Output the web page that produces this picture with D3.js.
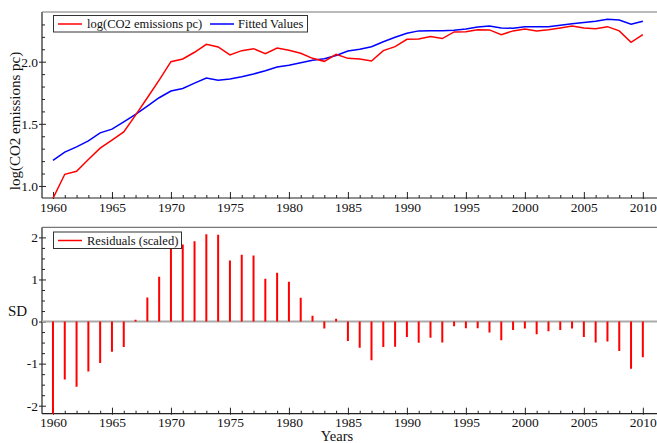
<!DOCTYPE html>
<html><head><meta charset="utf-8">
<script src="https://cdn.jsdelivr.net/npm/d3@7/dist/d3.min.js"></script>
<style>
body{margin:0;background:#fff}
svg{display:block}
svg text{font-family:"Liberation Serif","Times New Roman",serif !important;fill:#111}
</style>
</head><body>
<svg id="chart" width="657" height="443"></svg>
<script>
const years = [1960,1961,1962,1963,1964,1965,1966,1967,1968,1969,1970,1971,1972,1973,1974,1975,1976,1977,1978,1979,1980,1981,1982,1983,1984,1985,1986,1987,1988,1989,1990,1991,1992,1993,1994,1995,1996,1997,1998,1999,2000,2001,2002,2003,2004,2005,2006,2007,2008,2009,2010];
const logCO2 = [0.90,1.094,1.118,1.213,1.304,1.369,1.435,1.57,1.71,1.852,2.0,2.022,2.076,2.14,2.119,2.054,2.089,2.105,2.065,2.11,2.092,2.068,2.027,2.003,2.06,2.027,2.022,2.006,2.089,2.121,2.18,2.183,2.202,2.186,2.24,2.242,2.258,2.256,2.218,2.248,2.264,2.248,2.258,2.272,2.288,2.272,2.266,2.282,2.248,2.156,2.218];
const fitted = [1.205,1.272,1.315,1.363,1.427,1.457,1.516,1.576,1.643,1.71,1.764,1.785,1.828,1.869,1.85,1.86,1.879,1.901,1.927,1.957,1.971,1.992,2.011,2.024,2.05,2.086,2.1,2.121,2.161,2.197,2.229,2.248,2.25,2.25,2.253,2.264,2.28,2.288,2.272,2.269,2.282,2.282,2.282,2.293,2.306,2.315,2.326,2.342,2.336,2.302,2.326];
const residuals = [-2.35,-1.375,-1.55,-1.19,-0.986,-0.716,-0.604,0.04,0.573,1.067,1.807,1.83,1.91,2.076,2.06,1.449,1.59,1.568,1.019,1.162,0.947,0.566,0.136,-0.167,0.064,-0.46,-0.62,-0.92,-0.604,-0.597,-0.365,-0.501,-0.382,-0.5,-0.11,-0.158,-0.158,-0.262,-0.444,-0.198,-0.167,-0.30,-0.23,-0.198,-0.167,-0.365,-0.50,-0.477,-0.70,-1.12,-0.85];
const xMajorTicks = [1960,1965,1970,1975,1980,1985,1990,1995,2000,2005,2010];
const topYMajor = [1.0,1.5,2.0];
const topYMinor = [1.1,1.2,1.3,1.4,1.6,1.7,1.8,1.9,2.1,2.2,2.3];
const botYMajor = [-2,-1,0,1,2];
const botYMinor = [-1.75,-1.5,-1.25,-0.75,-0.5,-0.25,0.25,0.5,0.75,1.25,1.5,1.75];
const topLegend = ["log(CO2 emissions pc)","Fitted Values"];
const botLegend = ["Residuals (scaled)"];

const svg = d3.select("#chart");
const RED = "#ff0000", BLUE = "#0000ff", AX = "#222";
const FONT = '"Liberation Serif","Times New Roman",serif';

const x = d3.scaleLinear().domain([1959.07, 2011.2]).range([42, 657]);
const yTop = d3.scaleLinear().domain([0.903, 2.40]).range([198, 12]);
const yBot = d3.scaleLinear().domain([-2.19, 2.24]).range([413.7, 227.3]);

function clip(id, y0, y1){
  svg.append("clipPath").attr("id", id).append("rect")
    .attr("x", 42).attr("y", y0).attr("width", 615).attr("height", y1 - y0);
}
clip("cTop", 12, 198);
clip("cBot", 227.3, 413.7);

function styleText(sel){
  sel.attr("font-family", FONT).style("font-family", FONT).style("font-size", "13.5px").attr("fill", "#111");
}

function xAxis(yPos, labelOffset){
  const g = svg.append("g");
  g.append("g").attr("transform", `translate(0,${yPos})`)
    .call(d3.axisBottom(x).tickValues(years.filter(v => v % 5 !== 0)).tickSize(-3).tickFormat(""))
    .call(s => s.select(".domain").remove())
    .selectAll("line").attr("stroke", AX);
  const maj = g.append("g").attr("transform", `translate(0,${yPos})`)
    .call(d3.axisBottom(x).tickValues(xMajorTicks).tickSize(0).tickPadding(0).tickFormat(d3.format("d")));
  maj.attr("font-family", null).attr("font-size", null);
  maj.select(".domain").remove();
  maj.selectAll(".tick line").attr("y1", -6).attr("y2", 1).attr("stroke", AX);
  styleText(maj.selectAll(".tick text").attr("dy", null).attr("y", labelOffset));
  g.append("line").attr("x1", 42).attr("x2", 657).attr("y1", yPos).attr("y2", yPos)
    .attr("stroke", AX).attr("stroke-width", 1.2);
}

function yAxis(scale, majors, minors, fmt, y0, y1){
  const g = svg.append("g").attr("transform", "translate(42,0)");
  g.append("g").call(d3.axisLeft(scale).tickValues(minors).tickSize(-3).tickFormat(""))
    .call(s => s.select(".domain").remove())
    .selectAll("line").attr("stroke", AX);
  const maj = g.append("g").call(d3.axisLeft(scale).tickValues(majors).tickSize(0).tickPadding(4).tickFormat(fmt));
  maj.attr("font-family", null).attr("font-size", null);
  maj.select(".domain").remove();
  maj.selectAll(".tick line").attr("x1", -3).attr("x2", 4).attr("stroke", AX);
  styleText(maj.selectAll(".tick text"));
  svg.append("line").attr("x1", 42).attr("x2", 42).attr("y1", y0).attr("y2", y1)
    .attr("stroke", AX).attr("stroke-width", 1.2);
  svg.append("line").attr("x1", 42).attr("x2", 657).attr("y1", y0).attr("y2", y0)
    .attr("stroke", "#777").attr("stroke-width", 1.2);
}

// ---------- TOP PANEL ----------
yAxis(yTop, topYMajor, topYMinor, d3.format(".1f"), 12, 198);
xAxis(198, 14);

const lineTop = d3.line().x((d, i) => x(years[i])).y(d => yTop(d));
const gTop = svg.append("g").attr("clip-path", "url(#cTop)");
gTop.append("path").datum(fitted).attr("d", lineTop)
  .attr("fill", "none").attr("stroke", BLUE).attr("stroke-width", 1.5);
gTop.append("path").datum(logCO2).attr("d", lineTop)
  .attr("fill", "none").attr("stroke", RED).attr("stroke-width", 1.5);

svg.append("text").attr("transform", "translate(20,121) rotate(-90)")
  .attr("text-anchor", "middle").style("font-size", "15px").text("log(CO2 emissions pc)");

const lt = svg.append("g");
lt.append("rect").attr("x", 53.5).attr("y", 15.5).attr("width", 254).attr("height", 16.5)
  .attr("fill", "#fff").attr("stroke", "#333").attr("stroke-width", 1);
[[RED, 58, 87], [BLUE, 210, 238]].forEach((c, i) => {
  lt.append("line").attr("x1", c[1]).attr("x2", c[1] + 24).attr("y1", 24).attr("y2", 24)
    .attr("stroke", c[0]).attr("stroke-width", 1.5);
  lt.append("text").attr("x", c[2]).attr("y", 28.2).style("font-size", "12.5px").text(topLegend[i]);
});

// ---------- BOTTOM PANEL ----------
const intHyphen = d => d3.format("d")(d).replace("\u2212", "-");
yAxis(yBot, botYMajor, botYMinor, intHyphen, 227.3, 413.7);
xAxis(413.7, 13.5);

const gBot = svg.append("g").attr("clip-path", "url(#cBot)");
gBot.append("line").attr("x1", 42).attr("x2", 657).attr("y1", yBot(0)).attr("y2", yBot(0))
  .attr("stroke", "#aaa").attr("stroke-width", 2);
gBot.selectAll("line.res").data(residuals).join("line").attr("class", "res")
  .attr("x1", (d, i) => x(years[i])).attr("x2", (d, i) => x(years[i]))
  .attr("y1", yBot(0)).attr("y2", d => yBot(d))
  .attr("stroke", RED).attr("stroke-width", 2);

svg.append("text").attr("x", 8).attr("y", 316).style("font-size", "15px").text("SD");
svg.append("text").attr("x", 337).attr("y", 441).attr("text-anchor", "middle")
  .style("font-size", "14.5px").text("Years");

const lb = svg.append("g");
lb.append("rect").attr("x", 53.5).attr("y", 232).attr("width", 128).attr("height", 16.5)
  .attr("fill", "#fff").attr("stroke", "#333").attr("stroke-width", 1);
lb.append("line").attr("x1", 58).attr("x2", 82).attr("y1", 240.5).attr("y2", 240.5)
  .attr("stroke", RED).attr("stroke-width", 1.5);
lb.append("text").attr("x", 87).attr("y", 244.7).style("font-size", "12.5px").text(botLegend[0]);
</script>
</body></html>
